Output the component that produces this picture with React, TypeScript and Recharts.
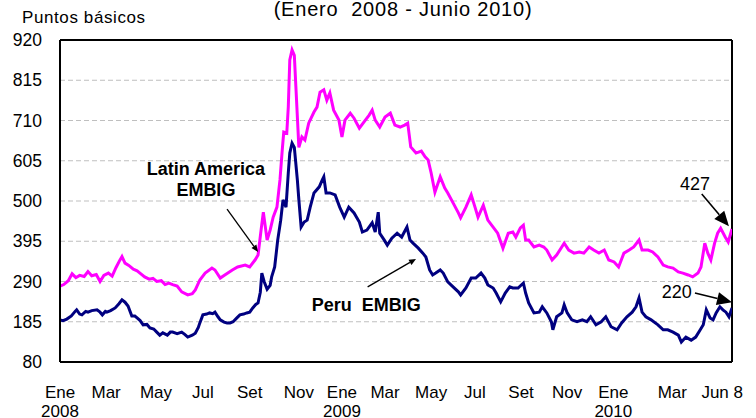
import React from 'react';
import { LineChart, Line, XAxis, YAxis, CartesianGrid, ReferenceLine, ReferenceDot } from 'recharts';

const FONT = '"Liberation Sans", Arial, Helvetica, sans-serif';

// Y axis ticks (puntos básicos)
const yTicks = [80, 185, 290, 395, 500, 605, 710, 815, 920];

// X axis: days since 1 Jan 2008
const xTickDays = [0, 61, 127, 189, 251, 316, 373, 430, 491, 549, 610, 671, 732, 810, 876];
const xTickMonths = ['Ene', 'Mar', 'May', 'Jul', 'Set', 'Nov', 'Ene', 'Mar', 'May', 'Jul', 'Set', 'Nov', 'Ene', 'Mar', 'Jun 8'];
const xTickYears = ['2008', '', '', '', '', '', '2009', '', '', '', '', '', '2010', '', ''];

// Latin America EMBIG
const latamDays = [0, 5, 11, 16, 21, 26, 32, 37, 42, 48,
  53, 58, 64, 69, 74, 79, 82, 86, 91, 97,
  102, 107, 112, 118, 123, 128, 134, 139, 144, 149,
  155, 161, 169, 175, 179, 185, 192, 201, 205, 212,
  218, 228, 235, 245, 251, 258, 262, 266, 269, 274,
  278, 282, 287, 291, 294, 296, 300, 302, 304, 307,
  310, 312, 316, 320, 324, 329, 336, 340, 344, 349,
  353, 357, 362, 369, 373, 377, 384, 389, 396, 402,
  409, 413, 417, 423, 430, 437, 443, 450, 456, 460,
  464, 471, 478, 483, 487, 491, 496, 503, 509, 513,
  520, 527, 530, 537, 544, 549, 553, 560, 566, 573,
  579, 586, 593, 599, 603, 609, 613, 616, 620, 627,
  634, 640, 644, 651, 657, 667, 673, 680, 687, 693,
  700, 706, 713, 720, 726, 733, 739, 746, 753, 759,
  766, 770, 778, 784, 791, 798, 804, 811, 818, 824,
  831, 837, 844, 848, 853, 857, 861, 866, 870, 874,
  880, 884, 889];
const latamValues = [278, 282, 292, 310, 300, 306, 303, 316, 305, 308,
  290, 306, 312, 304, 326, 345, 355, 338, 332, 322,
  318, 310, 302, 296, 298, 290, 292, 282, 286, 282,
  278, 263, 255, 258, 268, 294, 312, 325, 320, 299,
  307, 320, 328, 333, 328, 346, 359, 424, 471, 398,
  424, 458, 484, 555, 633, 680, 677, 745, 868, 894,
  880, 800, 640, 667, 659, 703, 732, 745, 784, 790,
  763, 782, 737, 711, 667, 711, 729, 716, 690, 706,
  724, 737, 711, 693, 719, 729, 698, 693, 698, 703,
  641, 625, 630, 615, 607, 573, 523, 563, 534, 521,
  495, 469, 456, 484, 516, 484, 458, 489, 450, 432,
  416, 377, 416, 419, 406, 430, 437, 398, 398, 380,
  385, 380, 372, 346, 359, 390, 372, 364, 367, 364,
  380, 372, 364, 372, 346, 341, 328, 364, 372, 380,
  398, 372, 372, 367, 354, 333, 328, 325, 315, 312,
  307, 302, 312, 328, 390, 364, 346, 390, 416, 429,
  406, 393, 427];

// Peru EMBIG
const peruDays = [0, 4, 9, 15, 20, 22, 26, 29, 34, 37,
  42, 49, 53, 56, 60, 62, 67, 73, 78, 82,
  86, 90, 95, 99, 102, 106, 110, 115, 119, 124,
  128, 132, 136, 142, 146, 149, 155, 161, 165, 169,
  175, 179, 183, 185, 189, 194, 198, 202, 205, 209,
  212, 217, 221, 225, 229, 234, 238, 243, 247, 251,
  255, 259, 262, 265, 267, 270, 274, 278, 280, 284,
  288, 292, 295, 299, 302, 304, 307, 310, 314, 316,
  319, 323, 327, 331, 336, 343, 347, 349, 352, 357,
  364, 370, 376, 382, 389, 396, 400, 406, 413, 417,
  421, 423, 429, 433, 439, 446, 452, 459, 463, 467,
  474, 480, 484, 489, 493, 497, 503, 507, 513, 520,
  527, 530, 537, 544, 550, 557, 562, 566, 573, 577,
  583, 589, 595, 599, 606, 613, 616, 620, 627, 634,
  638, 644, 650, 652, 657, 664, 667, 671, 677, 684,
  691, 697, 702, 709, 716, 722, 729, 737, 743, 750,
  757, 762, 766, 770, 775, 782, 791, 798, 804, 811,
  818, 822, 828, 835, 841, 847, 851, 855, 860, 864,
  868, 873, 877, 881, 885, 889];
const peruValues = [190, 188, 192, 200, 212, 216, 205, 203, 212, 210,
  214, 216, 210, 203, 212, 210, 214, 221, 232, 242,
  236, 226, 200, 200, 195, 188, 177, 178, 169, 166,
  158, 150, 156, 150, 158, 158, 154, 158, 152, 145,
  150, 155, 170, 182, 203, 205, 208, 206, 210, 198,
  190, 184, 182, 182, 185, 195, 203, 205, 208, 210,
  221, 230, 234, 262, 312, 290, 270, 280, 302, 328,
  398, 450, 503, 484, 573, 625, 651, 640, 555, 503,
  432, 445, 450, 484, 521, 537, 555, 563, 521, 521,
  516, 484, 458, 484, 469, 445, 419, 424, 443, 419,
  471, 416, 398, 385, 403, 416, 406, 432, 398, 390,
  377, 364, 354, 320, 307, 312, 320, 312, 289, 276,
  263, 255, 273, 299, 299, 312, 299, 281, 273, 260,
  237, 260, 276, 273, 273, 286, 260, 234, 208, 210,
  224, 208, 185, 164, 198, 208, 229, 208, 190, 185,
  190, 185, 198, 177, 185, 198, 172, 164, 182, 198,
  210, 224, 247, 210, 198, 190, 177, 164, 164, 158,
  150, 132, 145, 137, 145, 164, 177, 216, 195, 190,
  208, 224, 216, 210, 198, 221];

const latamData = latamDays.map((d, i) => ({ d, v: latamValues[i] }));
const peruData = peruDays.map((d, i) => ({ d, v: peruValues[i] }));

const XTick = (props: any) => {
  const { x, y, payload } = props;
  const i = xTickDays.indexOf(payload.value);
  return (
    <g>
      <text x={x} y={y + 36} textAnchor="middle" fontSize={17} fontFamily={FONT} fill="#000">
        {xTickMonths[i]}
      </text>
      {xTickYears[i] ? (
        <text x={x} y={y + 55} textAnchor="middle" fontSize={17} fontFamily={FONT} fill="#000">
          {xTickYears[i]}
        </text>
      ) : null}
    </g>
  );
};

const makeArrow = (head: number, halfW: number, width: number) => (p: any) => {
  const { x1, y1, x2, y2 } = p;
  const ang = Math.atan2(y2 - y1, x2 - x1);
  const bx = x2 - head * Math.cos(ang);
  const by = y2 - head * Math.sin(ang);
  const nx = -Math.sin(ang) * halfW;
  const ny = Math.cos(ang) * halfW;
  return (
    <g>
      <line x1={x1} y1={y1} x2={bx} y2={by} stroke="#000" strokeWidth={width} />
      <polygon points={`${x2},${y2} ${bx + nx},${by + ny} ${bx - nx},${by - ny}`} fill="#000" />
    </g>
  );
};
const smallArrow = makeArrow(7, 3, 1.3);
const bigArrow = makeArrow(15, 6.5, 1.6);

const makeText = (label: string, bold: boolean) => (p: any) => (
  <text
    x={p.cx}
    y={p.cy}
    textAnchor="middle"
    fontSize={18}
    fontWeight={bold ? 'bold' : 'normal'}
    fontFamily={FONT}
    fill="#000"
    style={{ whiteSpace: 'pre' }}
  >
    {label}
  </text>
);

export default function App() {
  return (
    <div style={{ position: 'absolute', left: 0, top: 0, width: 756, height: 418, background: '#fff' }}>
      <LineChart width={756} height={418} margin={{ top: 40, right: 24, bottom: 0, left: 0 }}>
        <CartesianGrid vertical={false} stroke="#bfbfbf" strokeDasharray="5 3" />
        <XAxis
          type="number"
          dataKey="d"
          domain={[0, 889]}
          ticks={xTickDays}
          interval={0}
          height={56}
          tickSize={0}
          tickMargin={0}
          tickLine={false}
          axisLine={{ stroke: '#000', strokeWidth: 2 }}
          tick={<XTick />}
          allowDataOverflow
        />
        <YAxis
          type="number"
          domain={[80, 920]}
          ticks={yTicks}
          interval={0}
          width={60}
          tickSize={0}
          tickMargin={18}
          tickLine={false}
          axisLine={{ stroke: '#000', strokeWidth: 2 }}
          tick={{ fontSize: 17.5, fill: '#000', fontFamily: FONT }}
          allowDataOverflow
        />
        <ReferenceLine y={920} stroke="#000" strokeWidth={2} ifOverflow="visible" />
        <ReferenceLine x={889} stroke="#000" strokeWidth={2} ifOverflow="visible" />
        <Line
          data={latamData}
          dataKey="v"
          type="linear"
          stroke="#ff00ff"
          strokeWidth={3}
          dot={false}
          activeDot={false}
          isAnimationActive={false}
        />
        <Line
          data={peruData}
          dataKey="v"
          type="linear"
          stroke="#000080"
          strokeWidth={3}
          dot={false}
          activeDot={false}
          isAnimationActive={false}
        />
        <ReferenceLine segment={[{ x: 221, y: 479 }, { x: 262, y: 367 }]} shape={smallArrow} ifOverflow="visible" />
        <ReferenceLine segment={[{ x: 407, y: 276 }, { x: 471, y: 349 }]} shape={smallArrow} ifOverflow="visible" />
        <ReferenceLine segment={[{ x: 849, y: 518 }, { x: 885, y: 434 }]} shape={bigArrow} ifOverflow="visible" />
        <ReferenceLine segment={[{ x: 840, y: 260 }, { x: 889, y: 236 }]} shape={bigArrow} ifOverflow="visible" />
        <ReferenceDot x={193} y={568} r={0} ifOverflow="visible" shape={makeText('Latin America', true)} />
        <ReferenceDot x={193} y={513} r={0} ifOverflow="visible" shape={makeText('EMBIG', true)} />
        <ReferenceDot x={405} y={214} r={0} ifOverflow="visible" shape={makeText('Peru  EMBIG', true)} />
        <ReferenceDot x={840} y={529} r={0} ifOverflow="visible" shape={makeText('427', false)} />
        <ReferenceDot x={816} y={247} r={0} ifOverflow="visible" shape={makeText('220', false)} />
      </LineChart>
      <svg
        width={756}
        height={418}
        style={{ position: 'absolute', left: 0, top: 0, pointerEvents: 'none' }}
      >
        <text x={22} y={23} fontSize={17} letterSpacing={0.6} fontFamily={FONT} fill="#000">
          Puntos básicos
        </text>
        <text x={403} y={16} textAnchor="middle" fontSize={20} letterSpacing={0.8} fontFamily={FONT} fill="#000" style={{ whiteSpace: 'pre' }}>
          (Enero  2008 - Junio 2010)
        </text>
      </svg>
    </div>
  );
}
